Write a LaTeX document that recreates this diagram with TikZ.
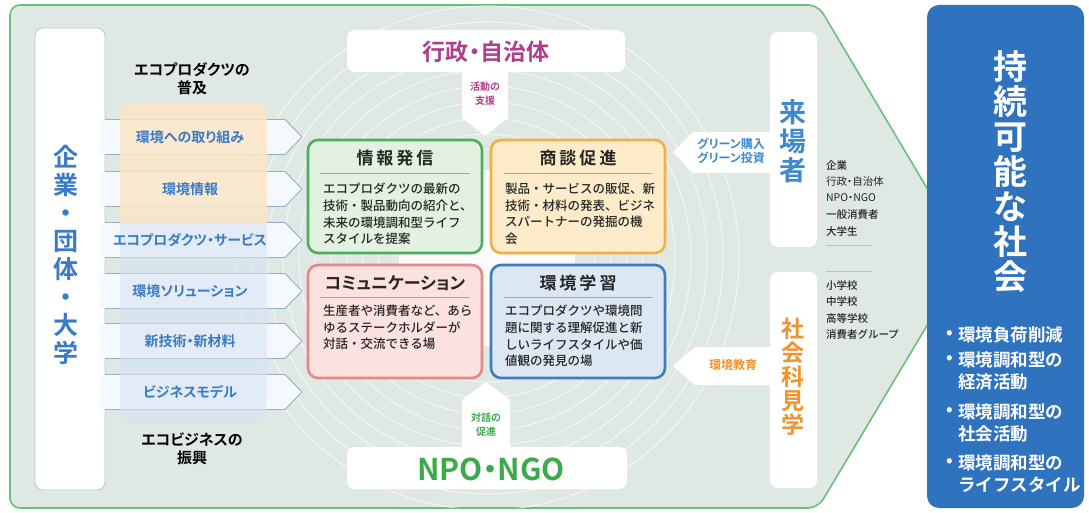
\documentclass[tikz,border=0pt]{standalone}
\usepackage{fontspec}
\usepackage{graphicx}
\setmainfont{Noto Sans CJK JP}[BoldFont={Noto Sans CJK JP Bold}]
\newfontfamily\pfont{Noto Sans CJK JP}[BoldFont={Noto Sans CJK JP Bold},RawFeature=+palt]
\newfontfamily\mfont{Noto Sans CJK JP Medium}
\newcommand\myfs[2]{\fontsize{#1}{#2}\selectfont}
\definecolor{bggreen}{HTML}{DFE8E3}
\definecolor{edgegreen}{HTML}{6DBE7B}
\definecolor{sblue}{HTML}{2F72BE}
\definecolor{tblue}{HTML}{3B7BC6}
\definecolor{arrowedge}{HTML}{97AECB}
\definecolor{arrowfill}{HTML}{F5F8FC}
\definecolor{tintpeach}{HTML}{FCE6C8}
\definecolor{tintblue}{HTML}{D6E3F2}
\definecolor{gyosei}{HTML}{AE3F8C}
\definecolor{npogreen}{HTML}{3CAA4B}
\definecolor{visitblue}{HTML}{3D89CF}
\definecolor{tourorange}{HTML}{F0922E}
\definecolor{gEdge}{HTML}{4DAE5C}\definecolor{gFill}{HTML}{E3F1E1}
\definecolor{oEdge}{HTML}{F2B043}\definecolor{oFill}{HTML}{FDEBC9}
\definecolor{rEdge}{HTML}{E48888}\definecolor{rFill}{HTML}{FBE1E0}
\definecolor{bEdge}{HTML}{3E7CC0}\definecolor{bFill}{HTML}{DCE7F4}
\definecolor{bodytext}{HTML}{262626}
\begin{document}
\begin{tikzpicture}[x=1pt,y=-1pt,
  every node/.style={inner sep=0pt,outer sep=0pt},
  whitebox/.style={fill=white,rounded corners=8pt},
  quadbox/.style={line width=2.6pt,rounded corners=10pt,minimum width=174pt,minimum height=113pt},
  qtitle/.style={font=\myfs{17}{20}\bfseries,text=bodytext},
  qbody/.style={font=\mfont\myfs{12.5}{16.7},text=bodytext,align=left,anchor=north west},
  sepline/.style={draw=black!35,line width=0.6pt},
  arrowlbl/.style={font=\pfont\myfs{14}{16}\bfseries,text=tblue},
  headlbl/.style={font=\pfont\myfs{15}{18}\bfseries,text=black,align=center},
  smalllbl/.style={font=\myfs{10}{14}\bfseries,align=center},
  listlbl/.style={font=\mfont\myfs{10.5}{12},text=bodytext,anchor=west},
  bullet/.style={font=\myfs{17.5}{20}\bfseries,text=white,anchor=west},
  leftarrow/.style={fill=arrowfill},
  leftarrowedge/.style={draw=arrowedge,line width=0.9pt,line join=round}
]
\useasboundingbox (0,0) rectangle (1089,513);

% outer area
\path[fill=bggreen,draw=edgegreen,line width=1.6pt,rounded corners=10pt]
  (10,5) -- (818,5) -- (968,257) -- (818,508) -- (10,508) -- cycle;

% concentric circles
\begin{scope}
  \clip (10,5) -- (818,5) -- (968,257) -- (818,508) -- (10,508) -- cycle;
  \foreach \r in {108,124,140,156,172,188,204,220,236,252}
    \draw[white,line width=0.8pt,opacity=0.8] (487,258) circle[radius=\r pt];
  \fill[white,opacity=0.85] (487,258) circle[radius=88pt];
\end{scope}

% goal box
\node[fill=sblue,rounded corners=12pt,minimum width=157pt,minimum height=503pt] (goal) at (1005.5,256.5) {};
\node[font=\myfs{34}{35}\bfseries,text=white,align=center] (goalT) at (1010,172) {持\\続\\可\\能\\な\\社\\会};
\node[bullet] (g1) at (946,335) {•};
\node[bullet] (g1t) at (958,335) {環境負荷削減};
\node[bullet] (g2) at (946,360) {•};
\node[bullet] (g2t) at (958,360) {環境調和型の};
\node[bullet] (g2u) at (958,382) {経済活動};
\node[bullet] (g3) at (946,412) {•};
\node[bullet] (g3t) at (958,412) {環境調和型の};
\node[bullet] (g3u) at (958,434) {社会活動};
\node[bullet] (g4) at (946,463) {•};
\node[bullet] (g4t) at (958,463) {環境調和型の};
\node[bullet] (g4u) at (958,485) {ライフスタイル};

% left white box
\node[whitebox,draw=arrowedge!70,line width=0.8pt,minimum width=70pt,minimum height=462pt] (kigyo) at (70,259) {};
\node[font=\myfs{25}{28}\bfseries,text=tblue,align=center] (kigyoT) at (66,255) {企\\業\\・\\団\\体\\・\\大\\学};

% left arrows
\foreach \c in {137,189,240,291,341,392}{
  \fill[leftarrow] (100,\c-17.5) -- (285,\c-17.5) -- (302,\c) -- (285,\c+17.5) -- (100,\c+17.5) -- cycle;
  \draw[leftarrowedge] (105,\c-17.5) -- (285,\c-17.5) -- (302,\c) -- (285,\c+17.5) -- (105,\c+17.5);
}
% tints
\begin{scope}
  \clip[rounded corners=10pt] (120,103) rectangle (267,423);
  \fill[tintpeach,opacity=0.85] (120,103) rectangle (267,223);
  \fill[tintblue,opacity=0.6] (120,223) rectangle (267,423);
\end{scope}
\node[arrowlbl] (a1) at (190,137) {環境への取り組み};
\node[arrowlbl] (a2) at (190,189) {環境情報};
\node[arrowlbl] (a3) at (190,240) {エコプロダクツ・サービス};
\node[arrowlbl] (a4) at (190,291) {環境ソリューション};
\node[arrowlbl] (a5) at (190,341) {新技術・新材料};
\node[arrowlbl] (a6) at (190,392) {ビジネスモデル};
\node[headlbl] (h1) at (192,79) {エコプロダクツの\\普及};
\node[headlbl] (h2) at (192,449) {エコビジネスの\\振興};

% top and bottom actors
\fill[white] (462,68) -- (462,118) -- (485,136) -- (508,118) -- (508,68) -- cycle;
\node[whitebox,minimum width=278pt,minimum height=42pt] (gyoseiB) at (486,51) {};
\node[font=\pfont\myfs{23}{25}\bfseries,text=gyosei] (gyosei) at (486,52) {行政・自治体};
\node[smalllbl,text=gyosei] (shien) at (485,94) {活動の\\支援};

\fill[white] (462,450) -- (462,400) -- (486,382) -- (510,400) -- (510,450) -- cycle;
\node[whitebox,minimum width=280pt,minimum height=42pt] (npoB) at (487,468) {};
\node[font=\pfont\myfs{30}{32}\bfseries,text=npogreen] (npo) at (491,469) {NPO・NGO};
\node[smalllbl,text=npogreen] (sokushin) at (486,425) {対話の\\促進};

% quadrant boxes
\node[quadbox,draw=gEdge,fill=gFill] (jyoho) at (395,196.5) {};
\node[qtitle] (jyohoT) at (395,158) {情\hspace{3pt}報\hspace{3pt}発\hspace{3pt}信};
\node[qbody] (jyohoB) at (323,183) {エコプロダクツの最新の\\技術・製品動向の紹介と、\\未来の環境調和型ライフ\\スタイルを提案};

\node[quadbox,draw=oEdge,fill=oFill] (shodan) at (578,196.5) {};
\node[qtitle] (shodanT) at (578,158) {商\hspace{3pt}談\hspace{3pt}促\hspace{3pt}進};
\node[qbody] (shodanB) at (505,183) {製品・サービスの販促、新\\技術・材料の発表、ビジネ\\スパートナーの発掘の機\\会};

\node[quadbox,draw=rEdge,fill=rFill] (comm) at (395,321.5) {};
\node[qtitle,font=\pfont\myfs{17}{20}\bfseries] (commT) at (395,283) {コミュニケーション};
\node[qbody] (commB) at (323,305) {生産者や消費者など、あら\\ゆるステークホルダーが\\対話・交流できる場};

\node[quadbox,draw=bEdge,fill=bFill] (gakushu) at (578,321.5) {};
\node[qtitle] (gakushuT) at (578,283) {環\hspace{3pt}境\hspace{3pt}学\hspace{3pt}習};
\node[qbody] (gakushuB) at (505,305) {エコプロダクツや環境問\\題に関する理解促進と新\\しいライフスタイルや価\\値観の発見の場};

\draw[sepline] (320,173) -- (470,173);
\draw[sepline] (504,173) -- (652,173);
\draw[sepline] (320,297) -- (470,297);
\draw[sepline] (504,297) -- (652,297);

% right actors
\fill[white] (772,132) -- (693,132) -- (673,152.5) -- (693,173) -- (772,173) -- cycle;
\node[whitebox,minimum width=47pt,minimum height=215pt] (raijoB) at (793.5,139.5) {};
\node[font=\myfs{27}{29}\bfseries,text=visitblue,align=center] (raijo) at (793,141) {来\\場\\者};
\node[font=\pfont\myfs{12}{13.5}\bfseries,text=visitblue,align=center] (green) at (731,151) {グリーン購入\\グリーン投資};
\node[listlbl] (v1) at (826,165) {企業};
\node[listlbl,font=\pfont\myfs{10.5}{12}] (v2) at (826,181.5) {行政・自治体};
\node[listlbl,font=\pfont\myfs{10.5}{12}] (v3) at (826,198) {NPO・NGO};
\node[listlbl] (v4) at (826,214.5) {一般消費者};
\node[listlbl] (v5) at (826,231) {大学生};
\draw[draw=black!25,line width=0.5pt] (826,245) -- (872,245);

\fill[white] (772,347) -- (695,347) -- (673,366) -- (695,385) -- (772,385) -- cycle;
\node[whitebox,minimum width=47pt,minimum height=216pt] (kengakuB) at (793.5,380) {};
\node[font=\myfs{23}{24}\bfseries,text=tourorange,align=center] (kengaku) at (793,377) {社\\会\\科\\見\\学};
\node[font=\myfs{12}{14}\bfseries,text=tourorange] (kyoiku) at (733,365) {環境教育};
\draw[draw=black!25,line width=0.5pt] (826,271) -- (872,271);
\node[listlbl] (s1) at (826,285) {小学校};
\node[listlbl] (s2) at (826,301.5) {中学校};
\node[listlbl] (s3) at (826,318) {高等学校};
\node[listlbl] (s4) at (826,334.5) {消費者グループ};
\end{tikzpicture}
\end{document}
